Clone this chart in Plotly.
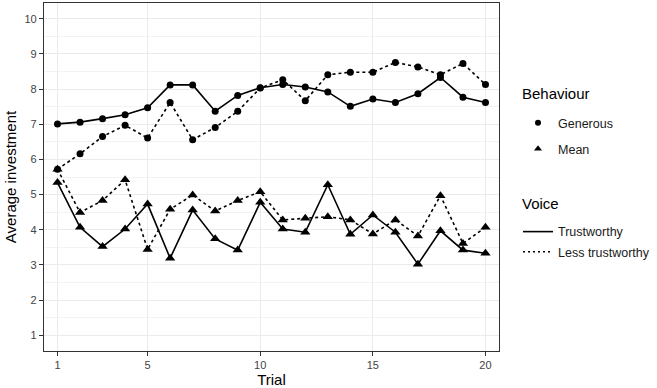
import plotly.graph_objects as go

trials = list(range(1, 21))
gen_trust = [7.01, 7.06, 7.16, 7.27, 7.47, 8.12, 8.12, 7.37, 7.82, 8.04,
             8.13, 8.06, 7.92, 7.51, 7.72, 7.62, 7.87, 8.33, 7.77, 7.62]
gen_less = [5.72, 6.16, 6.65, 6.97, 6.61, 7.62, 6.56, 6.91, 7.37, 8.03,
            8.27, 7.67, 8.41, 8.48, 8.48, 8.76, 8.63, 8.41, 8.73, 8.13]
mean_trust = [5.34, 4.07, 3.52, 4.02, 4.73, 3.19, 4.56, 3.74, 3.42, 4.78,
              4.02, 3.93, 5.28, 3.87, 4.42, 3.93, 3.02, 3.97, 3.42, 3.33]
mean_less = [5.72, 4.49, 4.83, 5.42, 3.44, 4.58, 4.99, 4.53, 4.83, 5.08,
             4.28, 4.33, 4.37, 4.28, 3.88, 4.28, 3.82, 4.97, 3.61, 4.07]
x_ticks = [1, 5, 10, 15, 20]
y_ticks = list(range(1, 11))

DASH = "3px,3px"
FONT = "Liberation Sans, Arial"
fig = go.Figure()

def add(y, symbol, dash, size):
    fig.add_trace(go.Scatter(
        x=trials, y=y, mode="lines+markers",
        line=dict(color="black", width=1.6, dash=dash),
        marker=dict(symbol=symbol, size=size, color="black"),
        showlegend=False, hoverinfo="x+y"))

add(gen_trust, "circle", "solid", 7)
add(gen_less, "circle", DASH, 7)
add(mean_trust, "triangle-up", "solid", 9)
add(mean_less, "triangle-up", DASH, 9)

# legend entries (one legend per item for exact spacing)
fig.add_trace(go.Scatter(x=[None], y=[None], mode="markers", name="Generous",
                         marker=dict(symbol="circle", size=6, color="black"),
                         legend="legend"))
fig.add_trace(go.Scatter(x=[None], y=[None], mode="markers", name="Mean",
                         marker=dict(symbol="triangle-up", size=7, color="black"),
                         legend="legend2"))
fig.add_trace(go.Scatter(x=[None], y=[None], mode="lines", name="Trustworthy",
                         line=dict(color="black", width=1.6),
                         legend="legend3"))
fig.add_trace(go.Scatter(x=[None], y=[None], mode="lines", name="Less trustworthy",
                         line=dict(color="black", width=1.6, dash="2px,3px"),
                         legend="legend4"))

axis_common = dict(
    showline=True, mirror=True, linecolor="#333333", linewidth=1.2,
    ticks="outside", ticklen=4, tickcolor="#333333", tickwidth=1,
    gridcolor="#EBEBEB", gridwidth=1, zeroline=False, automargin=False,
    tickfont=dict(family=FONT, size=11, color="#444444"),
    title_font=dict(family=FONT, size=15, color="black"),
)

fig.update_xaxes(range=[0.4, 20.6], tickmode="array", tickvals=x_ticks,
                 title_text="Trial", title_standoff=2, **axis_common)
fig.update_yaxes(range=[0.55, 10.45], tickmode="array", tickvals=y_ticks,
                 title_text="Average investment", title_standoff=4,
                 minor=dict(dtick=0.5, tick0=0.5, showgrid=True, gridcolor="#F3F3F3", gridwidth=0.6, ticks=""),
                 **axis_common)

LX = 1.0395
def leg(yc):
    return dict(x=LX, xanchor="left", y=yc, yanchor="middle", itemwidth=30,
                font=dict(family=FONT, size=12.5, color="#1A1A1A"),
                bgcolor="rgba(0,0,0,0)", borderwidth=0)

fig.update_layout(
    width=657, height=388,
    margin=dict(l=44, r=157, t=3, b=37),
    plot_bgcolor="white", paper_bgcolor="white",
    font=dict(family=FONT, color="black"),
    showlegend=True,
    legend=leg(0.655), legend2=leg(0.580), legend3=leg(0.342), legend4=leg(0.284),
)

for text, yc in [("Behaviour", 0.741), ("Voice", 0.425)]:
    fig.add_annotation(text=text, xref="paper", yref="paper", x=1.046, y=yc,
                       xanchor="left", yanchor="middle", showarrow=False,
                       font=dict(family=FONT, size=15, color="black"))

fig.write_html("out.html", config={"displayModeBar": False},
               post_script="document.body.style.margin='0';")
